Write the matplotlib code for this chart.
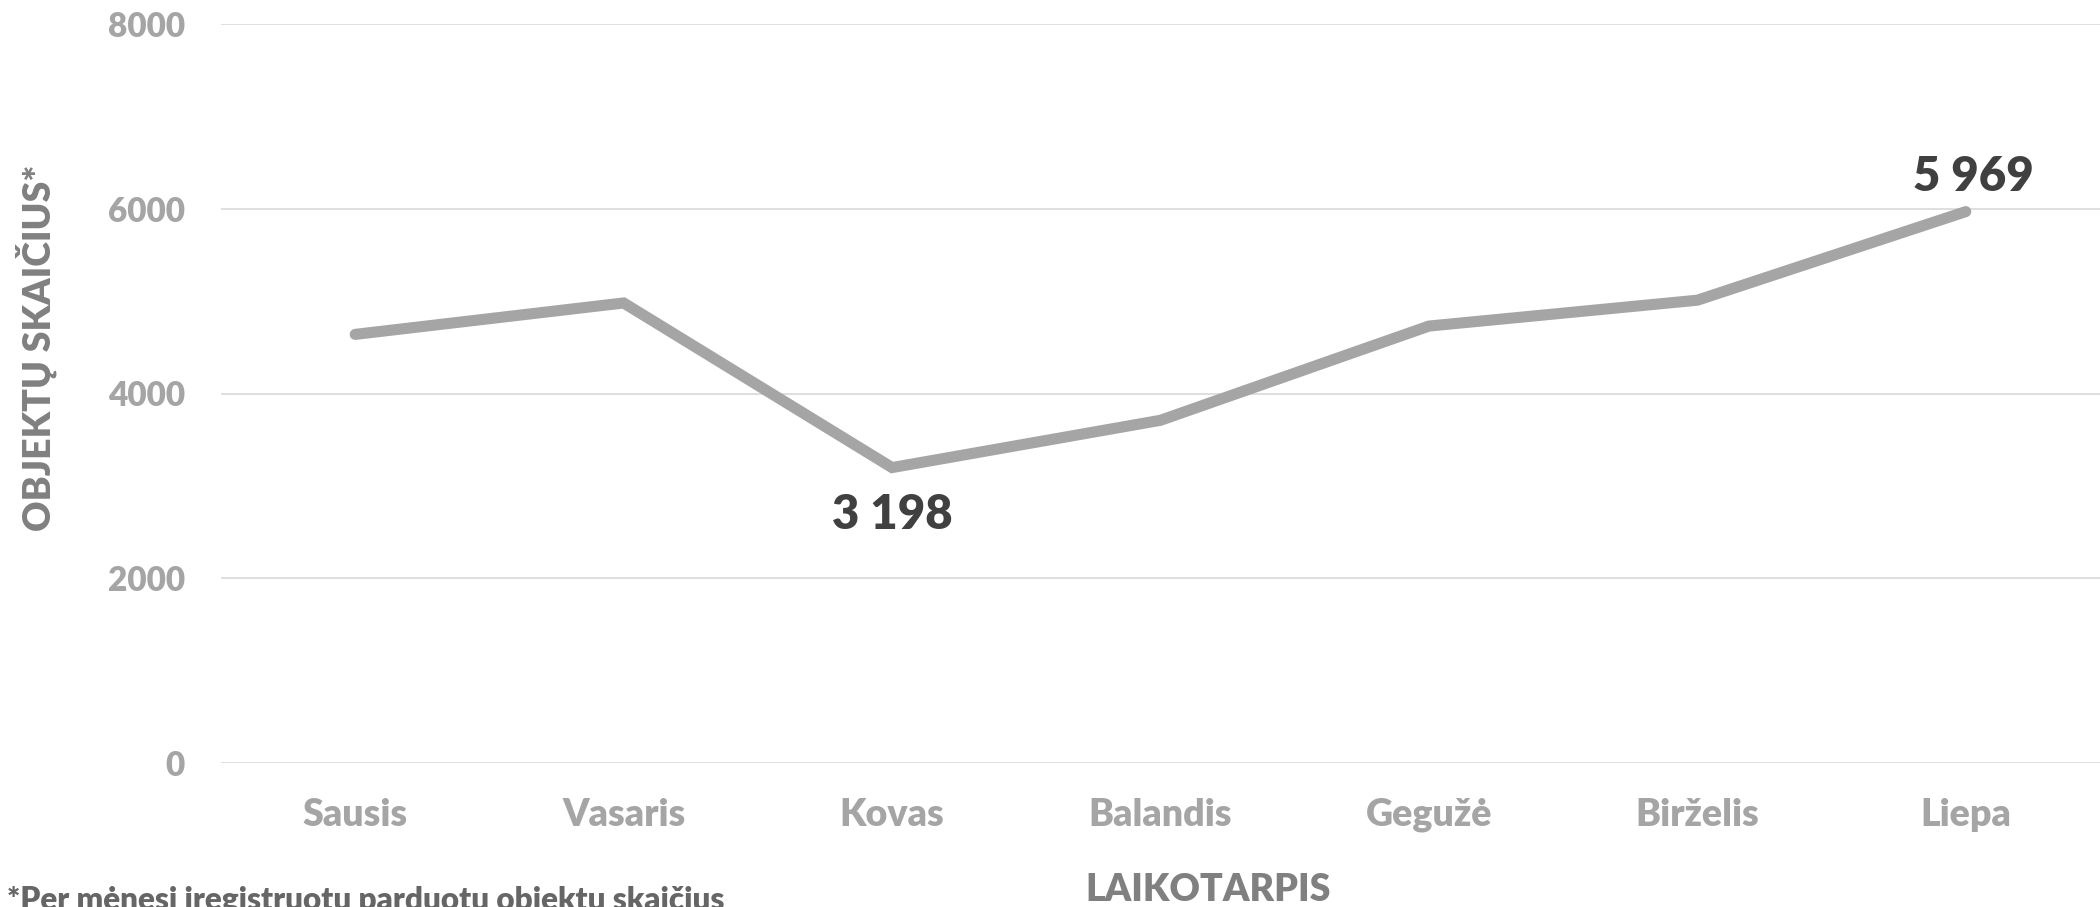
import matplotlib.pyplot as plt
import numpy as np

## data
months = ["Sausis", "Vasaris", "Kovas", "Balandis", "Gegužė", "Birželis", "Liepa"]
counts = [4640, 4980, 3198, 3710, 4730, 5010, 5969]
yticks = [0, 2000, 4000, 6000, 8000]

# labelled points (index, text, offset in px)
labelled = [(2, "3 198", 0, -47), (6, "5 969", 8, 35)]

line_col = "#A5A5A5"
tick_col = "#A5A5A5"
title_col = "#808080"
lab_col = "#404040"
grid_col = "#D9D9D9"

plt.rcParams['font.family'] = ['Lato', 'DejaVu Sans']

fig = plt.figure(figsize=(21, 9.07), dpi=100)
ax = fig.add_axes([221/2100, 1 - 763/907, 1 - 221/2100, (763-24)/907])

x = np.arange(len(months))
ax.plot(x, counts, color=line_col, lw=8, solid_capstyle='round', solid_joinstyle='miter', zorder=3)

for i, txt, dx, dy in labelled:
    ax.annotate(txt, (x[i], counts[i]), xytext=(dx * 0.72, dy * 0.72), textcoords='offset points',
                ha='center', va='center', fontsize=34, fontweight='heavy', color=lab_col)

ax.set_xlim(-0.5, len(months) - 0.5)
ax.set_ylim(0, 8000)
ax.set_yticks(yticks)
ax.set_yticklabels([str(v) for v in yticks])
ax.set_xticks(x)
ax.set_xticklabels(months)
ax.tick_params(axis='y', length=0, pad=26, labelsize=24, labelcolor=tick_col)
ax.tick_params(axis='x', length=0, pad=25, labelsize=27, labelcolor=tick_col)
for t in ax.get_xticklabels() + ax.get_yticklabels():
    t.set_fontweight('heavy')
ax.grid(axis='y', color=grid_col, lw=1.2)
ax.set_axisbelow(True)
for s in ax.spines.values():
    s.set_visible(False)

fig.text(1208/2100, 1 - 890/907, "LAIKOTARPIS", ha='center', va='center',
         fontsize=27, fontweight='heavy', color=title_col)
fig.text(36/2100, 1 - 348/907, "OBJEKTŲ SKAIČIUS*", ha='center', va='center', rotation=90,
         fontsize=27, fontweight='heavy', color=title_col)
fig.text(7/2100, -0.003, "*Per mėnesį įregistruotų parduotų objektų skaičius", ha='left', va='baseline',
         fontsize=22.7, fontweight='heavy', color="#666666")

fig.savefig("out.png", dpi=100)
